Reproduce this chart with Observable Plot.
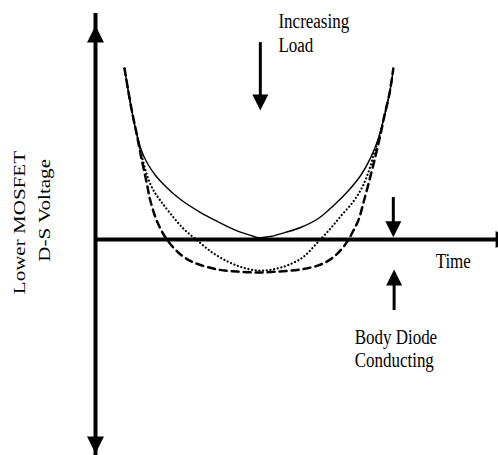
<!DOCTYPE html>
<html>
<head>
<meta charset="utf-8">
<script src="https://cdn.jsdelivr.net/npm/d3@7"></script>
<script src="https://cdn.jsdelivr.net/npm/@observablehq/plot@0.6"></script>
<style>
  html, body { margin: 0; padding: 0; background: #fff; overflow: hidden; }
  svg text { font-family: "Liberation Serif", "Times New Roman", serif; }
</style>
</head>
<body>
<div id="chart"></div>
<script>
// Time (arbitrary units 0..100) and Lower MOSFET D-S voltage (arbitrary units)
const solidT  = [7.2, 8.2, 9.2, 10.2, 11.4, 12.9, 14.9, 17.4, 21.1, 26.1, 30.3, 34.7, 38.5, 40.4, 43.4, 47.1, 50.9, 55.3, 59.1, 62.8, 65.8, 68.2, 70.2, 71.7, 73.0, 73.9];
const solidV  = [79.9, 68.7, 58.4, 49.5, 41.6, 35.5, 29.9, 24.8, 18.7, 12.6, 8.4, 4.4, 1.9, 0.9, 1.4, 3.3, 5.6, 9.8, 15.9, 22.9, 29.9, 37.9, 47.2, 57.9, 68.7, 79.9];

const dottedT = [7.2, 8.2, 9.2, 10.2, 11.4, 12.9, 14.4, 16.1, 18.6, 21.8, 25.3, 29.0, 32.8, 36.5, 40.2, 43.9, 47.6, 51.4, 55.1, 58.3, 61.0, 63.8, 66.0, 67.7, 69.2, 70.5, 71.7, 73.0, 73.9];
const dottedV = [79.9, 68.7, 58.4, 49.5, 39.7, 29.4, 22.9, 18.2, 12.1, 5.1, -0.5, -6.1, -10.3, -13.1, -14.5, -14.0, -12.1, -8.4, -1.4, 5.1, 11.2, 17.3, 23.8, 31.3, 40.7, 48.6, 57.9, 68.7, 79.9];

const dashedT = [7.2, 8.2, 9.2, 10.2, 11.4, 12.7, 13.6, 15.4, 17.9, 21.1, 24.3, 30.3, 35.2, 40.2, 45.2, 50.9, 55.3, 58.3, 60.8, 62.5, 64.0, 65.3, 66.5, 67.7, 69.2, 70.5, 71.7, 73.0, 73.9];
const dashedV = [79.9, 68.7, 58.4, 49.5, 37.9, 26.6, 18.2, 7.9, -0.5, -7.0, -10.7, -14.0, -15.0, -15.4, -15.0, -14.0, -12.1, -9.3, -5.1, -0.9, 4.2, 9.3, 17.3, 25.7, 36.9, 47.2, 57.9, 68.7, 79.9];

// Annotation texts
const loadLabel  = ["Increasing\nLoad"];
const timeLabel  = ["Time"];
const diodeLabel = ["Body Diode\nConducting"];
const yLabels    = ["Lower MOSFET", "D-S Voltage"];

// filled triangular arrowhead symbols with the tip at the origin
function head(dir) {
  return {
    draw(ctx, size) {
      const r = Math.sqrt(size / Math.PI), L = 2 * r;
      if (dir === "up")    { ctx.moveTo(0, 0); ctx.lineTo(-r, L); ctx.lineTo(r, L); }
      if (dir === "down")  { ctx.moveTo(0, 0); ctx.lineTo(-r, -L); ctx.lineTo(r, -L); }
      if (dir === "right") { ctx.moveTo(0, 0); ctx.lineTo(-L, -r); ctx.lineTo(-L, r); }
      ctx.closePath();
    }
  };
}

const serif = "'Liberation Serif', 'Times New Roman', serif";
const txt = {fill: "black", fontFamily: serif, fontSize: 17, className: "lbl"};

const chart = Plot.plot({
  width: 498,
  height: 455,
  margin: 0,
  x: {domain: [0, 100], range: [95, 498], axis: null},
  y: {domain: [-100, 100], range: [453, 25], axis: null},
  style: {fontFamily: serif, fontSize: "17px", background: "white", color: "black"},
  marks: [
    // axes
    Plot.ruleX([0], {y1: -100, y2: 100, strokeWidth: 4, stroke: "black", insetTop: 12, insetBottom: 12}),
    Plot.ruleY([0], {x1: 0, x2: 103.5, strokeWidth: 4, stroke: "black", insetRight: 12}),
    Plot.dot([0], {x: 0, y: 100, symbol: head("up"), r: 8.5, fill: "black", stroke: "none"}),
    Plot.dot([0], {x: 0, y: -100, symbol: head("down"), r: 8.5, fill: "black", stroke: "none"}),
    Plot.dot([0], {x: 103.5, y: 0, symbol: head("right"), r: 8.5, fill: "black", stroke: "none"}),

    // curves
    Plot.line(solidT, {x: solidT, y: solidV, curve: "catmull-rom", stroke: "black", strokeWidth: 1.4}),
    Plot.line(dottedT, {x: dottedT, y: dottedV, curve: "catmull-rom", stroke: "black", strokeWidth: 2.2, strokeDasharray: "0.1,3.6", strokeLinecap: "round"}),
    Plot.line(dashedT, {x: dashedT, y: dashedV, curve: "catmull-rom", stroke: "black", strokeWidth: 2.5, strokeDasharray: "7,5"}),

    // small arrows
    Plot.ruleX([40.9], {y1: 92, y2: 60.3, strokeWidth: 3, stroke: "black", insetBottom: 12}),
    Plot.dot([0], {x: 40.9, y: 60.3, symbol: head("down"), r: 8, fill: "black", stroke: "none"}),
    Plot.ruleX([73.9], {y1: 19.6, y2: 1, strokeWidth: 3, stroke: "black", insetBottom: 12}),
    Plot.dot([0], {x: 73.9, y: 1, symbol: head("down"), r: 8, fill: "black", stroke: "none"}),
    Plot.ruleX([74.1], {y1: -14, y2: -33.2, strokeWidth: 3, stroke: "black", insetTop: 12}),
    Plot.dot([0], {x: 74.1, y: -14, symbol: head("up"), r: 8, fill: "black", stroke: "none"}),

    // labels
    Plot.text(loadLabel, {...txt, x: 45.4, y: 106.6, text: d => d, textAnchor: "start", lineAnchor: "top", lineHeight: 1.14}),
    Plot.text(timeLabel, {...txt, x: 84.4, y: -6.5, text: d => d, textAnchor: "start", lineAnchor: "top"}),
    Plot.text(diodeLabel, {...txt, x: 64.3, y: -41.1, text: d => d, textAnchor: "start", lineAnchor: "top", lineHeight: 1.1}),
    Plot.text([yLabels[0]], {...txt, x: -18.9, y: 7.9, text: d => d, rotate: -90, textAnchor: "middle", lineAnchor: "middle"}),
    Plot.text([yLabels[1]], {...txt, x: -12.7, y: 13.6, text: d => d, rotate: -90, textAnchor: "middle", lineAnchor: "middle"})
  ]
});

// The reference type is drawn taller than it is wide: stretch the labels vertically
// about their own anchor points.
const stretch = 1.24;
chart.querySelectorAll("g.lbl text, .lbl text").forEach(el => {
  const tf = el.getAttribute("transform") || "";
  let ax = 0, ay = 0;
  const m = tf.match(/translate\(\s*([-\d.e]+)[ ,]+([-\d.e]+)\s*\)/);
  if (m) { ax = +m[1]; ay = +m[2]; }
  else { ax = +(el.getAttribute("x") || 0); ay = +(el.getAttribute("y") || 0); }
  el.setAttribute("transform", `translate(${ax},${ay}) scale(1,${stretch}) translate(${-ax},${-ay}) ${tf}`);
});

document.getElementById("chart").appendChild(chart);
</script>
</body>
</html>
